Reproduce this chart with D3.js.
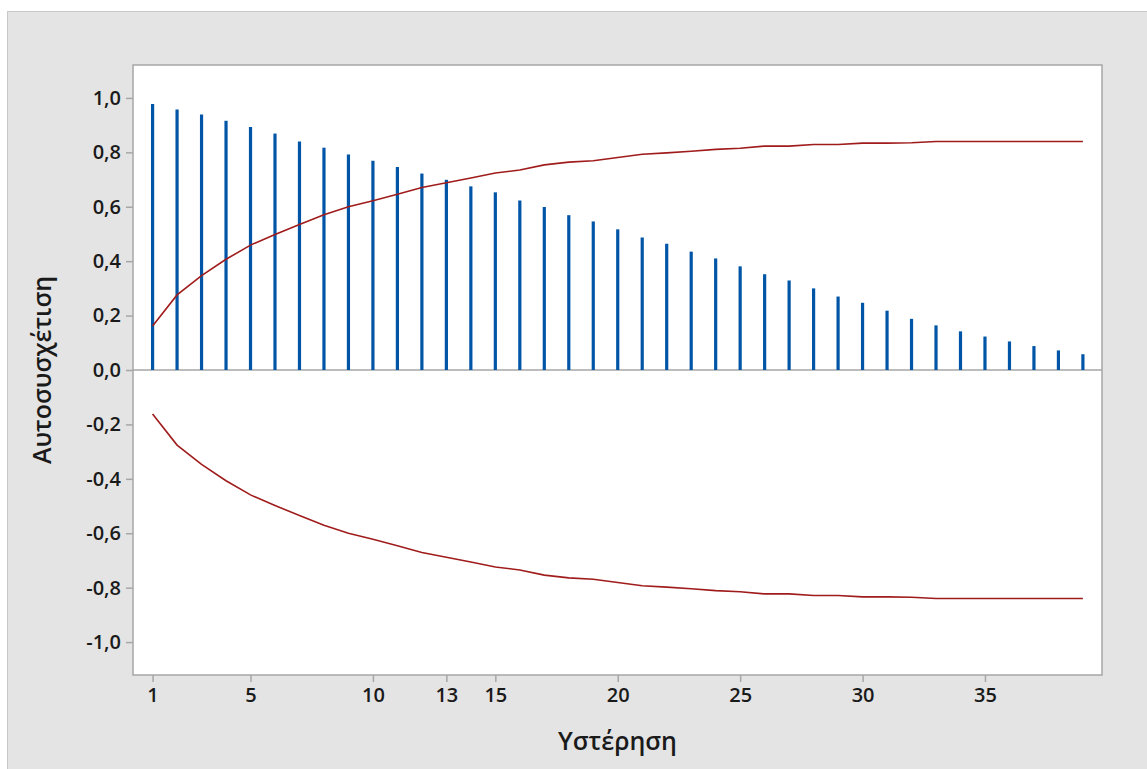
<!DOCTYPE html>
<html>
<head>
<meta charset="utf-8">
<script src="https://cdn.jsdelivr.net/npm/d3@7"></script>
<style>
  html, body { margin: 0; padding: 0; background: #ffffff; }
  svg { display: block; }
  text { font-family: "Open Sans", "Noto Sans", sans-serif; fill: #1a1a1a; }
</style>
</head>
<body>
<svg id="chart" width="1147" height="769"></svg>
<script>
// ---- data ----
const lags = d3.range(1, 40);
const acf = [0.978, 0.957, 0.939, 0.916, 0.893, 0.869, 0.840, 0.817, 0.792, 0.769,
             0.746, 0.722, 0.699, 0.675, 0.653, 0.623, 0.599, 0.569, 0.546, 0.517,
             0.487, 0.464, 0.435, 0.410, 0.381, 0.352, 0.329, 0.300, 0.270, 0.247,
             0.218, 0.188, 0.164, 0.142, 0.123, 0.105, 0.088, 0.072, 0.058];
const limit = [0.162, 0.276, 0.347, 0.407, 0.459, 0.498, 0.535, 0.571, 0.600, 0.622,
               0.646, 0.671, 0.688, 0.706, 0.724, 0.735, 0.754, 0.764, 0.769, 0.781,
               0.793, 0.798, 0.804, 0.811, 0.815, 0.823, 0.823, 0.829, 0.829, 0.834,
               0.834, 0.835, 0.840, 0.840, 0.840, 0.840, 0.840, 0.840, 0.840];
const xTicks = [1, 5, 10, 13, 15, 20, 25, 30, 35];
const yTicks = [-1.0, -0.8, -0.6, -0.4, -0.2, 0.0, 0.2, 0.4, 0.6, 0.8, 1.0];
const xTitle = "Υστέρηση";
const yTitle = "Αυτοσυσχέτιση";

// ---- layout ----
const svg = d3.select("#chart");
const W = 1147, H = 769;
const plot = { left: 133, top: 65, right: 1102, bottom: 675 };

// outer panel
svg.append("rect")
  .attr("x", 7.5).attr("y", 11.5)
  .attr("width", W + 10).attr("height", H + 10)
  .attr("fill", "#e4e4e4").attr("stroke", "#c9c9c9").attr("stroke-width", 1);

// plot area
svg.append("rect")
  .attr("x", plot.left).attr("y", plot.top)
  .attr("width", plot.right - plot.left).attr("height", plot.bottom - plot.top)
  .attr("fill", "#ffffff");

const x = d3.scaleLinear().domain([0.2, 39.78]).range([plot.left, plot.right]);
const y = d3.scaleLinear().domain([-1.121, 1.121]).range([plot.bottom, plot.top]);

const fmt = v => d3.format(".1f")(v).replace(".", ",").replace("−", "-");

// axes
const yAxis = svg.append("g")
  .attr("transform", `translate(${plot.left},0)`)
  .call(d3.axisLeft(y).tickValues(yTicks).tickFormat(fmt).tickSize(7).tickPadding(5));
const xAxis = svg.append("g")
  .attr("transform", `translate(0,${plot.bottom})`)
  .call(d3.axisBottom(x).tickValues(xTicks).tickFormat(d3.format("d")).tickSize(7).tickPadding(6));

[yAxis, xAxis].forEach(g => {
  g.select(".domain").remove();
  g.selectAll(".tick line").attr("stroke", "#a6a6a6").attr("stroke-width", 1.5);
  g.selectAll(".tick text")
    .attr("font-size", 20).attr("font-weight", 600)
    .attr("fill", "#1a1a1a")
    .style("font-family", '"Open Sans", "Noto Sans", sans-serif');
});

// zero line
svg.append("line")
  .attr("x1", plot.left).attr("x2", plot.right)
  .attr("y1", y(0)).attr("y2", y(0))
  .attr("stroke", "#a6a6a6").attr("stroke-width", 1.5);

// bars
svg.append("g").selectAll("line")
  .data(lags)
  .join("line")
  .attr("x1", d => x(d)).attr("x2", d => x(d))
  .attr("y1", y(0)).attr("y2", (d, i) => y(acf[i]))
  .attr("stroke", "#0055a6").attr("stroke-width", 3.2);

// limit lines
const lineUp = d3.line().x(d => x(d)).y((d, i) => y(limit[i]));
const lineDn = d3.line().x(d => x(d)).y((d, i) => y(-limit[i]));
svg.append("path").datum(lags).attr("d", lineUp)
  .attr("fill", "none").attr("stroke", "#a01c1c").attr("stroke-width", 1.6);
svg.append("path").datum(lags).attr("d", lineDn)
  .attr("fill", "none").attr("stroke", "#a01c1c").attr("stroke-width", 1.6);

// plot frame
svg.append("rect")
  .attr("x", plot.left).attr("y", plot.top)
  .attr("width", plot.right - plot.left).attr("height", plot.bottom - plot.top)
  .attr("fill", "none").attr("stroke", "#a6a6a6").attr("stroke-width", 1.5);

// titles
svg.append("text")
  .attr("x", (plot.left + plot.right) / 2).attr("y", 750)
  .attr("text-anchor", "middle")
  .attr("font-size", 25).attr("font-weight", 600)
  .text(xTitle);
svg.append("text")
  .attr("transform", `translate(51,${(plot.top + plot.bottom) / 2}) rotate(-90)`)
  .attr("text-anchor", "middle")
  .attr("font-size", 25).attr("font-weight", 600)
  .text(yTitle);
</script>
</body>
</html>
